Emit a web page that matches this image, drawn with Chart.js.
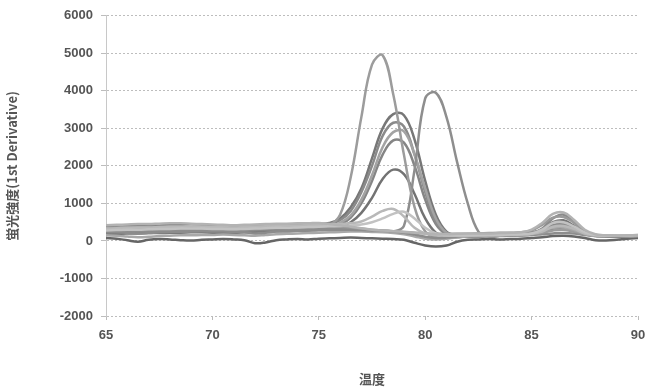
<!DOCTYPE html>
<html>
<head>
<meta charset="utf-8">
<script src="https://cdn.jsdelivr.net/npm/chart.js@4.4.1/dist/chart.umd.min.js"></script>
<style>
html, body { margin: 0; padding: 0; background: #fff; }
#wrap { width: 647px; height: 391px; }
</style>
</head>
<body>
<div id="wrap"><canvas id="chart_melt"></canvas></div>
<script>
// temperature (deg C), 0.5 step
var temps = [65,65.5,66,66.5,67,67.5,68,68.5,69,69.5,70,70.5,71,71.5,72,72.5,73,73.5,74,74.5,
	75,75.5,76,76.5,77,77.5,78,78.5,79,79.5,80,80.5,81,81.5,82,82.5,83,83.5,84,84.5,
	85,85.5,86,86.5,87,87.5,88,88.5,89,89.5,90];

var yTicks = [-2000,-1000,0,1000,2000,3000,4000,5000,6000];

// 1st derivative of fluorescence
var seriesA = [300,300,310,320,320,330,330,340,340,330,320,320,330,330,340,350,350,360,360,370,
	380,420,700,1700,3300,4700,4950,3900,2300,900,250,100,80,100,120,130,130,140,150,150,
	180,220,280,300,250,180,130,120,120,130,140];
var seriesB = [250,260,270,270,280,280,290,290,300,300,300,310,310,300,310,320,320,330,330,330,
	340,340,330,320,300,280,260,250,400,1900,3800,3950,3300,2100,1000,250,120,130,140,150,
	160,180,200,210,200,160,140,130,130,140,150];
var seriesC1 = [380,390,400,410,410,420,420,430,430,420,410,410,400,400,410,420,420,430,430,440,
	450,480,600,900,1400,2200,3000,3380,3350,2700,1600,700,250,150,140,140,150,150,160,170,
	200,300,500,550,400,220,150,140,130,140,150];
var seriesC2 = [320,330,340,350,360,360,370,370,380,370,360,360,350,360,370,380,390,390,400,410,
	420,450,550,800,1300,2000,2800,3150,3050,2300,1300,500,200,140,130,130,140,150,150,160,
	200,330,600,700,500,250,160,140,130,130,140];
var seriesC3 = [270,280,290,290,300,300,310,310,320,320,310,310,300,310,320,330,340,340,350,360,
	370,400,480,680,1100,1750,2500,2900,2920,2300,1400,600,220,150,140,130,140,140,150,160,
	190,280,420,450,350,200,150,130,130,130,140];
var seriesC4 = [220,230,240,250,250,260,270,270,280,280,270,270,260,270,280,290,300,300,310,320,
	330,360,430,620,1000,1600,2300,2680,2620,2000,1100,450,180,130,120,120,130,140,150,160,
	180,250,350,380,300,190,140,130,120,120,130];
var seriesC5 = [180,190,200,200,210,210,220,220,230,230,220,220,220,230,240,250,260,260,270,280,
	290,320,380,500,750,1150,1650,1900,1780,1250,600,220,120,110,110,120,130,140,150,150,
	170,220,300,320,260,180,130,120,110,120,130];
var seriesC6 = [330,340,350,360,360,370,380,380,390,380,370,370,360,370,380,390,400,410,410,420,
	430,440,450,470,520,650,800,850,650,350,200,150,140,140,140,150,150,160,170,170,
	190,250,380,400,320,200,150,140,140,140,150];
var seriesC7 = [280,290,300,300,310,320,320,330,330,330,320,320,310,320,330,340,350,350,360,370,
	380,390,400,410,440,500,600,720,780,600,350,200,160,150,150,150,160,160,170,180,
	200,300,480,500,380,230,160,140,140,150,160];
var seriesD1 = [420,430,440,450,450,460,470,470,460,450,440,430,420,430,440,450,460,460,470,470,
	480,450,420,380,340,300,280,260,240,220,200,180,180,190,200,200,200,210,220,230,
	300,480,720,760,560,300,180,150,140,150,160];
var seriesD2 = [350,360,370,370,380,380,390,390,400,390,380,380,370,380,390,390,400,400,410,410,
	420,400,380,360,330,300,280,260,240,220,200,190,190,190,190,200,210,220,220,230,
	280,430,620,640,480,260,160,140,140,140,150];
var seriesD3 = [80,60,20,-20,30,50,40,20,10,30,40,50,40,20,-60,-40,20,40,50,40,
	60,70,80,90,80,70,60,50,30,-50,-120,-150,-120,-20,30,40,50,40,50,60,
	80,100,130,140,120,80,20,10,30,60,80];
var seriesD4 = [150,140,120,100,110,130,140,150,150,160,160,170,160,150,140,160,180,190,200,210,
	220,230,240,250,250,240,230,210,180,120,60,40,60,90,130,160,170,170,180,190,
	220,280,350,360,290,200,140,120,110,120,130];
var seriesD5 = [250,240,220,200,210,230,240,240,250,260,250,250,240,230,200,220,250,260,270,280,
	290,300,300,300,290,280,270,250,220,170,110,80,90,120,150,170,180,180,190,200,
	230,300,420,440,340,220,150,120,110,120,140];

var allSeries = [
	[seriesD1, "#b3b3b3"],
	[seriesC7, "#c2c2c2"],
	[seriesC6, "#b8b8b8"],
	[seriesD2, "#9a9a9a"],
	[seriesD5, "#8c8c8c"],
	[seriesD4, "#a8a8a8"],
	[seriesA, "#9c9c9c"],
	[seriesB, "#8e8e8e"],
	[seriesC3, "#a3a3a3"],
	[seriesC2, "#8a8a8a"],
	[seriesC4, "#858585"],
	[seriesC1, "#777777"],
	[seriesC5, "#737373"],
	[seriesD3, "#666666"]
];

var datasets = allSeries.map(function(s){
	return {
		data: temps.map(function(t, i){ return {x: t, y: s[0][i]}; }),
		borderColor: s[1],
		borderWidth: 2.5,
		pointRadius: 0,
		tension: 0.4,
		fill: false
	};
});

var tickFont = {family: "'Liberation Sans', 'Open Sans', sans-serif", size: 13, weight: 'bold'};
var titleFont = {family: "'Noto Sans CJK JP', sans-serif", size: 13, weight: 'bold'};

var ctx = document.getElementById('chart_melt').getContext('2d');
var myChart = new Chart(ctx, {
	type: 'line',
	data: {datasets: datasets},
	options: {
		responsive: true,
		maintainAspectRatio: false,
		animation: false,
		layout: {padding: {top: 9, right: 9, left: 0, bottom: 0}},
		plugins: {legend: {display: false}, tooltip: {enabled: false}},
		scales: {
			x: {
				type: 'linear',
				min: 65, max: 90,
				ticks: {stepSize: 5, color: '#555', font: tickFont, padding: 8},
				grid: {drawOnChartArea: false, drawTicks: true, tickLength: 4, color: '#bbb'},
				border: {display: false},
				title: {display: true, text: '温度', color: '#555', font: titleFont, padding: {top: 12}},
				afterFit: function(scale){ scale.height = 75; scale.paddingRight = 0; scale.paddingLeft = 0; }
			},
			y: {
				min: -2000, max: 6000,
				afterBuildTicks: function(scale){ scale.ticks = yTicks.map(function(v){ return {value: v}; }); },
				ticks: {color: '#555', font: tickFont, padding: 8,
					callback: function(v){ return String(v); }},
				grid: {color: '#bdbdbd', lineWidth: 1, drawTicks: true, tickLength: 5},
				border: {display: true, color: '#c8c8c8', dash: [2, 2]},
				title: {display: true, text: '蛍光強度(1st Derivative)', color: '#555', font: titleFont, padding: {bottom: 6}},
				afterFit: function(scale){ scale.width = 106; }
			}
		}
	}
});
</script>
</body>
</html>
